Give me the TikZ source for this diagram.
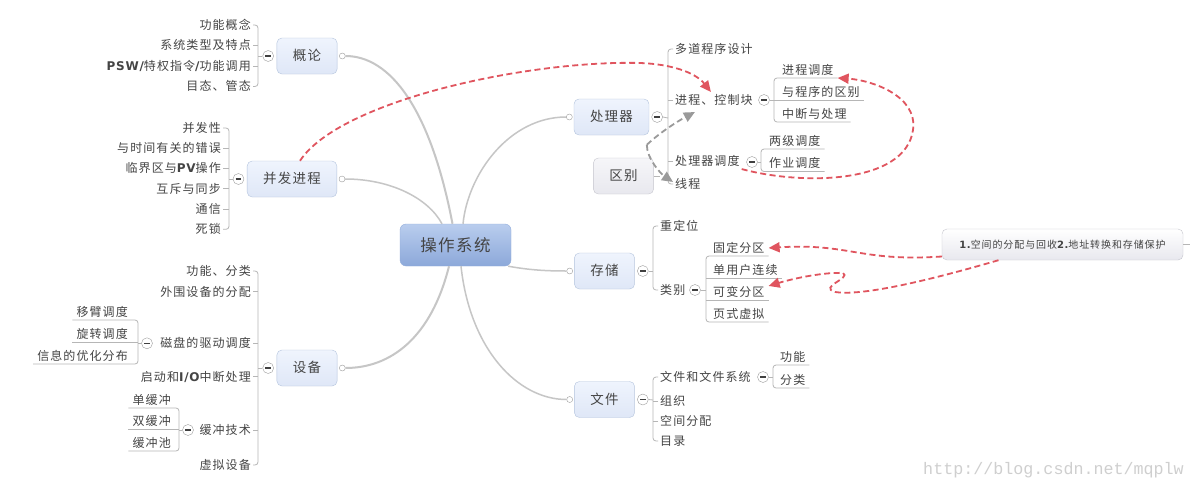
\documentclass[tikz,border=0pt]{standalone}
\usepackage{fontspec}
\setmainfont{Noto Sans CJK SC}[LetterSpace=9]
\newfontfamily\latb{DejaVu Sans Bold}[LetterSpace=6]
\newfontfamily\wmfont{Liberation Mono}
\usetikzlibrary{arrows.meta}
\definecolor{textc}{HTML}{444444}
\definecolor{twigc}{HTML}{B6B6B6}
\definecolor{trunkc}{HTML}{C6C6C6}
\definecolor{foldc}{HTML}{9C9C9C}
\definecolor{topicA}{HTML}{EFF4FD}
\definecolor{topicB}{HTML}{DFE7F7}
\definecolor{topicline}{HTML}{B3C3DD}
\definecolor{rootA}{HTML}{B9CDEE}
\definecolor{rootB}{HTML}{8CA8D9}
\definecolor{rootline}{HTML}{94AEDB}
\definecolor{grayA}{HTML}{F6F6F9}
\definecolor{grayB}{HTML}{E8E8EE}
\definecolor{grayline}{HTML}{C6C6CE}
\definecolor{relc}{HTML}{E0555F}
\definecolor{relgc}{HTML}{9A9A9A}
\definecolor{wmc}{HTML}{CFCFCF}
\begin{document}
\begin{tikzpicture}[x=1pt,y=-1pt,
    leaf/.style={font=\fontsize{12}{14}\selectfont,text=textc,inner xsep=2pt,inner ysep=2.6pt,
      text height=9.6pt,text depth=0.9pt},
    uleaf/.style={leaf,inner xsep=4pt},
    topic/.style={draw=topicline,top color=topicA,bottom color=topicB,rounded corners=5pt,
      font=\fontsize{13.5}{15}\selectfont,text=textc,inner xsep=16pt,minimum height=36pt,
      text height=10.8pt,text depth=1pt},
    graytopic/.style={topic,draw=grayline,top color=grayA,bottom color=grayB},
    root/.style={draw=rootline,top color=rootA,bottom color=rootB,rounded corners=6pt,
      font=\fontsize{16.5}{18}\selectfont,text=textc,minimum width=111pt,minimum height=42pt,
      text height=13.2pt,text depth=1.2pt},
    note/.style={draw=grayline,top color=white,bottom color=grayB,rounded corners=5pt,
      font=\fontsize{10}{12}\selectfont,text=textc,minimum width=241pt,minimum height=31pt},
    fold/.style={circle,draw=foldc,fill=white,minimum size=11pt,inner sep=0pt,
      path picture={\draw[line width=1.3pt,black!75]
        ([xshift=-2.8pt]path picture bounding box.center) -- ([xshift=2.8pt]path picture bounding box.center);}},
    endpt/.style={circle,draw=foldc,fill=white,minimum size=6pt,inner sep=0pt},
    trunk/.style={draw=trunkc,line width=1.5pt},
    twig/.style={draw=twigc,line width=0.8pt},
    rel/.style={draw=relc,line width=1.8pt,dash pattern=on 6pt off 3.5pt,-{Triangle[length=11pt,width=10pt]}},
    relg/.style={rel,draw=relgc}]
\useasboundingbox (0,0) rectangle (1194,490);
\fill[white] (0,0) rectangle (1194,490);

\node[root] (os) at (455.5,245) {操作系统};

\node[topic] (gl) at (307,56) {概论};
\node[topic] (bf) at (292,179) {并发进程};
\node[topic] (sb) at (307,368) {设备};
\node[topic] (cl) at (611.5,117) {处理器};
\node[graytopic] (qb) at (623.5,176) {区别};
\node[topic] (cc) at (604.5,271) {存储};
\node[topic] (wj) at (604.5,399.5) {文件};

\node[endpt] (gl-e) at ([xshift=5pt]gl.east) {};
\node[endpt] (bf-e) at ([xshift=5pt]bf.east) {};
\node[endpt] (sb-e) at ([xshift=5pt]sb.east) {};
\node[endpt] (cl-e) at ([xshift=-4.5pt]cl.west) {};
\node[endpt] (cc-e) at ([xshift=-4.5pt]cc.west) {};
\node[endpt] (wj-e) at ([xshift=-4.5pt]wj.west) {};

\draw[trunk,line width=2pt] ([xshift=-3pt]os.north) .. controls +(-22,-115) and +(48,0) .. (gl-e);
\draw[trunk] ([xshift=-13.5pt]os.north) .. controls +(-14,-26) and +(48,0) .. (bf-e);
\draw[trunk,line width=2pt] ([xshift=-6.5pt]os.south) .. controls +(-18,72) and +(48,0) .. (sb-e);
\draw[trunk] ([xshift=7.5pt]os.north) .. controls +(5,-50) and +(-60,0) .. (cl-e);
\draw[trunk] ([xshift=-3pt]os.south east) .. controls +(22,4) and +(-22,0) .. (cc-e);
\draw[trunk] ([xshift=5.5pt]os.south) .. controls +(9,83) and +(-52,0) .. (wj-e);

\node[fold] (gl-f) at ([xshift=-8.5pt]gl.west) {};
\node[fold] (bf-f) at ([xshift=-8.5pt]bf.west) {};
\node[fold] (sb-f) at ([xshift=-8.5pt]sb.west) {};
\node[fold] (cl-f) at ([xshift=8pt]cl.east) {};
\node[fold] (cc-f) at ([xshift=8pt]cc.east) {};
\node[fold] (wj-f) at ([xshift=8pt]wj.east) {};

% gai lun
\node[leaf,anchor=east] (gl1) at (253,25) {功能概念};
\node[leaf,anchor=east] (gl2) at (253,45.5) {系统类型及特点};
\node[leaf,anchor=east] (gl3) at (253,66) {{\latb PSW/}特权指令{\latb /}功能调用};
\node[leaf,anchor=east] (gl4) at (253,86.5) {目态、管态};
\coordinate (gl-s) at (258,56);
\draw[twig,rounded corners=3pt] (gl1.east) -- (gl1.east -| gl-s) -- (gl4.east -| gl-s) -- (gl4.east);
\foreach \n in {gl2,gl3} \draw[twig] (\n.east) -- (\n.east -| gl-s);
\draw[twig] (gl-f.west) -- (gl-s);

% bing fa
\node[leaf,anchor=east] (bf1) at (223,128) {并发性};
\node[leaf,anchor=east] (bf2) at (223,148.3) {与时间有关的错误};
\node[leaf,anchor=east] (bf3) at (223,168.5) {临界区与{\latb PV}操作};
\node[leaf,anchor=east] (bf4) at (223,188.8) {互斥与同步};
\node[leaf,anchor=east] (bf5) at (223,209) {通信};
\node[leaf,anchor=east] (bf6) at (223,229.3) {死锁};
\coordinate (bf-s) at (229,179);
\draw[twig,rounded corners=3pt] (bf1.east) -- (bf1.east -| bf-s) -- (bf6.east -| bf-s) -- (bf6.east);
\foreach \n in {bf2,bf3,bf4,bf5} \draw[twig] (\n.east) -- (\n.east -| bf-s);
\draw[twig] (bf-f.west) -- (bf-s);

% she bei
\node[leaf,anchor=east] (sb1) at (253,271) {功能、分类};
\node[leaf,anchor=east] (sb2) at (253,291.7) {外围设备的分配};
\node[leaf,anchor=east] (sb3) at (253,343.3) {磁盘的驱动调度};
\node[leaf,anchor=east] (sb4) at (253,376.7) {启动和{\latb I/O}中断处理};
\node[leaf,anchor=east] (sb5) at (253,430) {缓冲技术};
\node[leaf,anchor=east] (sb6) at (253,465) {虚拟设备};
\coordinate (sb-s) at (258,368);
\draw[twig,rounded corners=3pt] (sb1.east) -- (sb1.east -| sb-s) -- (sb6.east -| sb-s) -- (sb6.east);
\foreach \n in {sb2,sb3,sb4,sb5} \draw[twig] (\n.east) -- (\n.east -| sb-s);
\draw[twig] (sb-f.west) -- (sb-s);

\node[fold] (cp-f) at (147,343.3) {};
\node[uleaf,anchor=south east] (cp1) at (132,320) {移臂调度};
\node[uleaf,anchor=south east] (cp2) at (132,342) {旋转调度};
\node[uleaf,anchor=south east] (cp3) at (132,364) {信息的优化分布};
\coordinate (cp-s) at (138,343.3);
\draw[twig,rounded corners=3pt] (cp1.south west) -- (cp1.south -| cp-s) -- (cp3.south -| cp-s) -- (cp3.south west);
\draw[twig] (cp2.south west) -- (cp2.south -| cp-s);
\draw[twig] (cp-f.west) -- (cp-s);

\node[fold] (hc-f) at (188,430) {};
\node[uleaf,anchor=south east] (hc1) at (175,408) {单缓冲};
\node[uleaf,anchor=south east] (hc2) at (175,429.5) {双缓冲};
\node[uleaf,anchor=south east] (hc3) at (175,451) {缓冲池};
\coordinate (hc-s) at (179,430);
\draw[twig,rounded corners=3pt] (hc1.south west) -- (hc1.south -| hc-s) -- (hc3.south -| hc-s) -- (hc3.south west);
\draw[twig] (hc2.south west) -- (hc2.south -| hc-s);
\draw[twig] (hc-f.west) -- (hc-s);

% chu li qi
\node[leaf,anchor=west] (dc) at (673,49) {多道程序设计};
\node[leaf,anchor=west] (pc) at (673,100) {进程、控制块};
\node[leaf,anchor=west] (ps) at (673,161) {处理器调度};
\node[leaf,anchor=west] (xc) at (673,184) {线程};
\coordinate (cl-s) at (668,118);
\draw[twig,rounded corners=3pt] (dc.west) -- (dc.west -| cl-s) -- (xc.west -| cl-s) -- (xc.west);
\foreach \n in {pc,ps} \draw[twig] (\n.west) -- (\n.west -| cl-s);
\draw[twig] (cl-f.east) -- (cl-s);
\draw[twig] (qb.east) -- ++(6,0);

\node[fold] (pc-f) at (764,100) {};
\node[uleaf,anchor=south west] (pd1) at (778,78) {进程调度};
\node[uleaf,anchor=south west] (pd2) at (778,100) {与程序的区别};
\node[uleaf,anchor=south west] (pd3) at (778,122) {中断与处理};
\coordinate (pc-s) at (774,100);
\draw[twig,rounded corners=3pt] (pd1.south east) -- (pd1.south -| pc-s) -- (pd3.south -| pc-s) -- (pd3.south east);
\draw[twig] (pd2.south east) -- (pd2.south -| pc-s);
\draw[twig] (pc-f.east) -- (pc-s);

\node[fold] (ps-f) at (752,162) {};
\node[uleaf,anchor=south west] (pj1) at (765,149) {两级调度};
\node[uleaf,anchor=south west] (pj2) at (765,171.5) {作业调度};
\coordinate (ps-s) at (761,162);
\draw[twig,rounded corners=3pt] (pj1.south east) -- (pj1.south -| ps-s) -- (pj2.south -| ps-s) -- (pj2.south east);
\draw[twig] (ps-f.east) -- (ps-s);

% cun chu
\node[leaf,anchor=west] (cd) at (658,226) {重定位};
\node[leaf,anchor=west] (lb) at (658,290) {类别};
\coordinate (cc-s) at (653,271);
\draw[twig,rounded corners=3pt] (cd.west) -- (cd.west -| cc-s) -- (lb.west -| cc-s) -- (lb.west);
\draw[twig] (cc-f.east) -- (cc-s);

\node[fold] (lb-f) at (695,290) {};
\node[uleaf,anchor=south west] (fq1) at (709,256) {固定分区};
\node[uleaf,anchor=south west] (fq2) at (709,278) {单用户连续};
\node[uleaf,anchor=south west] (fq3) at (709,300) {可变分区};
\node[uleaf,anchor=south west] (fq4) at (709,322) {页式虚拟};
\coordinate (lb-s) at (706,290);
\draw[twig,rounded corners=3pt] (fq1.south east) -- (fq1.south -| lb-s) -- (fq4.south -| lb-s) -- (fq4.south east);
\foreach \n in {fq2,fq3} \draw[twig] (\n.south east) -- (\n.south -| lb-s);
\draw[twig] (lb-f.east) -- (lb-s);

% wen jian
\node[leaf,anchor=west] (wx) at (658,377) {文件和文件系统};
\node[leaf,anchor=west] (zz) at (658,401) {组织};
\node[leaf,anchor=west] (kj) at (658,421) {空间分配};
\node[leaf,anchor=west] (ml) at (658,441) {目录};
\coordinate (wj-s) at (653,400);
\draw[twig,rounded corners=3pt] (wx.west) -- (wx.west -| wj-s) -- (ml.west -| wj-s) -- (ml.west);
\foreach \n in {zz,kj} \draw[twig] (\n.west) -- (\n.west -| wj-s);
\draw[twig] (wj-f.east) -- (wj-s);

\node[fold] (wx-f) at (763,377) {};
\node[uleaf,anchor=south west] (gn) at (776,365) {功能};
\node[uleaf,anchor=south west] (fl) at (776,388) {分类};
\coordinate (wx-s) at (773,377);
\draw[twig,rounded corners=3pt] (gn.south east) -- (gn.south -| wx-s) -- (fl.south -| wx-s) -- (fl.south east);
\draw[twig] (wx-f.east) -- (wx-s);

\node[note] (nt) at (1062.5,244.5) {{\latb 1.}空间的分配与回收{\latb 2.}地址转换和存储保护};
\draw[twig] (nt.east) -- ++(7,0);

\node[anchor=east,inner sep=0pt,font=\wmfont\fontsize{16.7}{18}\selectfont,text=wmc] (wm) at (1184,470) {http://blog.csdn.net/mqplw};

% relations
\draw[rel] ([xshift=8pt]bf.north) .. controls (340,100) and (530,60) .. (640,63)
    .. controls (670,64) and (695,72) .. ([xshift=-3pt]pc.north);
\draw[rel] (ps.south east) .. controls (800,185) and (905,185) .. (913,130)
    .. controls (918,95) and (870,80) .. (pd1.south east);
\coordinate (qb-r) at ([xshift=-7pt,yshift=13pt]qb.north east);
\draw[relg] (qb-r) .. controls +(15,-14) and +(-15,8) .. ([xshift=-19pt,yshift=-4pt]pc.south);
\draw[relg] (qb-r) .. controls +(0,14) and +(-12,-8) .. ([yshift=-6pt]xc.north west);
\draw[rel] ([yshift=-12pt]nt.west) .. controls (860,262) and (850,243) .. (fq1.east);
\draw[rel] ([xshift=-64pt]nt.south) .. controls (920,283) and (860,296) .. (835,292)
    .. controls (818,287) and (852,278) .. (843,273)
    .. controls (825,272) and (795,278) .. ([yshift=6pt]fq3.east);
\end{tikzpicture}
\end{document}
